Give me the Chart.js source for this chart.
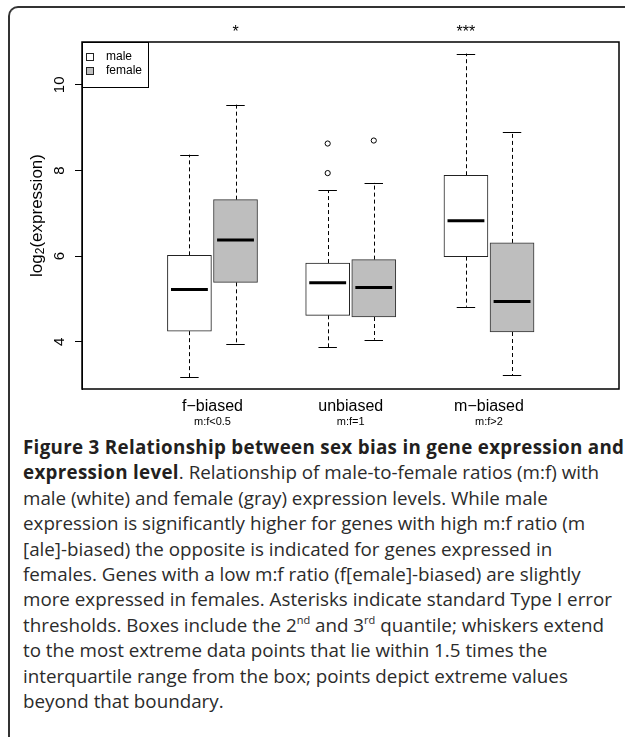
<!DOCTYPE html>
<html>
<head>
<meta charset="utf-8">
<script src="https://cdn.jsdelivr.net/npm/chart.js@4.4.1/dist/chart.umd.min.js"></script>
<style>
  html, body { margin: 0; padding: 0; background: #fff; }
  body { width: 625px; height: 737px; position: relative; overflow: hidden; }
  #frame {
    position: absolute; left: 8px; top: 6px; width: 640px; height: 740px;
    border-top: 2px solid #333; border-left: 2px solid #333;
    border-bottom: 2px solid #333;
    border-radius: 10px 0 0 10px;
    box-sizing: border-box;
  }
  #plot { position: absolute; left: 0; top: 0; width: 625px; height: 430px; }
  #caption {
    position: absolute; left: 23px; top: 435px;
    font-family: "Open Sans", sans-serif; font-size: 18.8px; line-height: 25.4px;
    color: #2b2b2b; white-space: nowrap;
  }
  #caption b { font-weight: 700; letter-spacing: 0.3px; color: #231f20; }
  #caption sup { font-size: 11px; line-height: 0; vertical-align: 8px; }
</style>
</head>
<body>
<div id="frame"></div>
<div id="plot"><canvas id="boxChart"></canvas></div>
<div id="caption">
<b>Figure 3 Relationship between sex bias in gene expression and</b><br>
<b>expression level</b>. Relationship of male-to-female ratios (m:f) with<br>
male (white) and female (gray) expression levels. While male<br>
expression is significantly higher for genes with high m:f ratio (m<br>
[ale]-biased) the opposite is indicated for genes expressed in<br>
females. Genes with a low m:f ratio (f[emale]-biased) are slightly<br>
more expressed in females. Asterisks indicate standard Type I error<br>
thresholds. Boxes include the 2<sup>nd</sup> and 3<sup>rd</sup> quantile; whiskers extend<br>
to the most extreme data points that lie within 1.5 times the<br>
interquartile range from the box; points depict extreme values<br>
beyond that boundary.
</div>
<script>
// Groups and labels
const categories = ['f\u2212biased', 'unbiased', 'm\u2212biased'];
const ratioLabels = ['m:f<0.5', 'm:f=1', 'm:f>2'];
const significance = ['*', '', '***'];
const yTicks = [4, 6, 8, 10];

// Male boxes (log2 expression)
const maleLow = [3.18, 3.87, 4.82];
const maleQ1 = [4.25, 4.62, 5.99];
const maleMedian = [5.22, 5.38, 6.83];
const maleQ3 = [6.02, 5.84, 7.89];
const maleHigh = [8.37, 7.54, 10.73];
const maleOutliers = [[], [7.94, 8.63], []];

// Female boxes
const femaleLow = [3.95, 4.05, 3.22];
const femaleQ1 = [5.39, 4.58, 4.23];
const femaleMedian = [6.38, 5.27, 4.94];
const femaleQ3 = [7.32, 5.92, 6.31];
const femaleHigh = [9.54, 7.72, 8.91];
const femaleOutliers = [[], [8.70], []];

const FONT = '"Liberation Sans", Arial, sans-serif';
const FEMALE_FILL = '#bebebe';

// box position on the x scale: male then female, one slot gap between groups
function slot(group, sex) {
    return group * 3 + 1 + sex;
}

const series = [
    { low: maleLow, q1: maleQ1, med: maleMedian, q3: maleQ3, high: maleHigh, out: maleOutliers },
    { low: femaleLow, q1: femaleQ1, med: femaleMedian, q3: femaleQ3, high: femaleHigh, out: femaleOutliers }
];

function boxData(sex) {
    const s = series[sex];
    return categories.map((c, i) => ({ x: slot(i, sex), y: [s.q1[i], s.q3[i]] }));
}

function outlierData() {
    const pts = [];
    series.forEach((s, sex) => {
        s.out.forEach((list, i) => list.forEach(v => pts.push({ x: slot(i, sex), y: v })));
    });
    return pts;
}

/**
 * Whiskers, medians, frame, rotated axis text, legend
 */
const boxExtras = {
    id: 'boxExtras',
    beforeDatasetsDraw(chart) {
        const { ctx, scales: { x, y } } = chart;
        ctx.save();
        ctx.strokeStyle = '#000';
        ctx.lineWidth = 1;
        series.forEach((s, sex) => {
            categories.forEach((c, i) => {
                const p = slot(i, sex);
                const cx = Math.round(x.getPixelForValue(p)) + 0.5;
                // dashed whiskers
                ctx.setLineDash([4, 3]);
                ctx.beginPath();
                ctx.moveTo(cx, y.getPixelForValue(s.q3[i]));
                ctx.lineTo(cx, y.getPixelForValue(s.high[i]));
                ctx.moveTo(cx, y.getPixelForValue(s.q1[i]));
                ctx.lineTo(cx, y.getPixelForValue(s.low[i]));
                ctx.stroke();
                // staples
                ctx.setLineDash([]);
                ctx.beginPath();
                [s.high[i], s.low[i]].forEach(v => {
                    const py = Math.round(y.getPixelForValue(v)) + 0.5;
                    ctx.moveTo(x.getPixelForValue(p - 0.2), py);
                    ctx.lineTo(x.getPixelForValue(p + 0.2), py);
                });
                ctx.stroke();
            });
        });
        ctx.restore();
    },
    afterDatasetsDraw(chart) {
        const { ctx, scales: { x, y } } = chart;
        ctx.save();
        ctx.strokeStyle = '#000';
        ctx.lineWidth = 3;
        series.forEach((s, sex) => {
            categories.forEach((c, i) => {
                const p = slot(i, sex);
                const py = y.getPixelForValue(s.med[i]);
                ctx.beginPath();
                ctx.moveTo(x.getPixelForValue(p - 0.4), py);
                ctx.lineTo(x.getPixelForValue(p + 0.4), py);
                ctx.stroke();
            });
        });
        ctx.restore();
    },
    afterDraw(chart) {
        const { ctx, chartArea: a, scales: { x, y } } = chart;
        ctx.save();

        // plot frame
        ctx.strokeStyle = '#000';
        ctx.lineWidth = 1.5;
        ctx.strokeRect(a.left, a.top, a.right - a.left, a.bottom - a.top);

        // y tick labels, rotated like R
        ctx.fillStyle = '#000';
        ctx.font = '15px ' + FONT;
        ctx.textAlign = 'center';
        ctx.textBaseline = 'middle';
        yTicks.forEach(v => {
            ctx.save();
            ctx.translate(a.left - 22, y.getPixelForValue(v));
            ctx.rotate(-Math.PI / 2);
            ctx.fillText(String(v), 0, 0);
            ctx.restore();
        });

        // y title: log2(expression)
        ctx.save();
        ctx.translate(37, (a.top + a.bottom) / 2);
        ctx.rotate(-Math.PI / 2);
        ctx.textAlign = 'left';
        ctx.textBaseline = 'middle';
        ctx.font = '17px ' + FONT;
        const w1 = ctx.measureText('log').width;
        const w3 = ctx.measureText('(expression)').width;
        ctx.font = '12px ' + FONT;
        const w2 = ctx.measureText('2').width;
        let sx = -(w1 + w2 + w3) / 2;
        ctx.font = '17px ' + FONT;
        ctx.fillText('log', sx, 0);
        ctx.font = '12px ' + FONT;
        ctx.fillText('2', sx + w1, 4);
        ctx.font = '17px ' + FONT;
        ctx.fillText('(expression)', sx + w1 + w2, 0);
        ctx.restore();

        // group labels under the axis
        ctx.textAlign = 'center';
        ctx.textBaseline = 'middle';
        categories.forEach((c, i) => {
            const px = x.getPixelForValue(slot(i, 0) + 0.5);
            ctx.font = '16px ' + FONT;
            ctx.fillText(c, px, a.bottom + 18);
            ctx.font = '11px ' + FONT;
            ctx.fillText(ratioLabels[i], px, a.bottom + 33);
        });

        // significance stars above the higher box
        ctx.font = '16px ' + FONT;
        ctx.textBaseline = 'alphabetic';
        significance.forEach((mark, i) => {
            if (!mark) return;
            const sex = maleMedian[i] >= femaleMedian[i] ? 0 : 1;
            ctx.fillText(mark, x.getPixelForValue(slot(i, sex)), a.top - 5);
        });

        // legend
        ctx.lineWidth = 1;
        ctx.strokeStyle = '#000';
        ctx.strokeRect(a.left + 0.5, a.top + 0.5, 66, 45);
        ctx.font = '12px ' + FONT;
        ctx.textAlign = 'left';
        ctx.textBaseline = 'middle';
        [['male', '#fff'], ['female', FEMALE_FILL]].forEach(([name, fill], k) => {
            const cy = a.top + 15 + k * 14;
            ctx.fillStyle = fill;
            ctx.fillRect(a.left + 4.5, cy - 3.5, 7, 7);
            ctx.strokeStyle = '#222';
            ctx.strokeRect(a.left + 4.5, cy - 3.5, 7, 7);
            ctx.fillStyle = '#000';
            ctx.fillText(name, a.left + 24, cy);
        });

        ctx.restore();
    }
};

document.addEventListener('DOMContentLoaded', function () {
    const ctx = document.getElementById('boxChart').getContext('2d');
    new Chart(ctx, {
        type: 'bar',
        data: {
            datasets: [
                {
                    label: 'male',
                    data: boxData(0),
                    backgroundColor: '#ffffff',
                    borderColor: '#222',
                    borderWidth: 1,
                    borderSkipped: false,
                    barThickness: 44,
                    grouped: false
                },
                {
                    label: 'female',
                    data: boxData(1),
                    backgroundColor: FEMALE_FILL,
                    borderColor: '#333',
                    borderWidth: 1,
                    borderSkipped: false,
                    barThickness: 44,
                    grouped: false
                },
                {
                    type: 'scatter',
                    label: 'outliers',
                    data: outlierData(),
                    pointStyle: 'circle',
                    pointRadius: 2.6,
                    borderColor: '#000',
                    borderWidth: 1,
                    backgroundColor: 'rgba(0,0,0,0)'
                }
            ]
        },
        options: {
            responsive: true,
            maintainAspectRatio: false,
            animation: false,
            layout: { padding: { top: 42, right: 6, left: 0, bottom: 0 } },
            plugins: {
                legend: { display: false },
                tooltip: { enabled: false }
            },
            scales: {
                x: {
                    type: 'linear',
                    min: -0.36,
                    max: 9.35,
                    ticks: { display: false },
                    grid: { display: false },
                    border: { display: false },
                    afterFit: s => { s.height = 41; }
                },
                y: {
                    type: 'linear',
                    min: 2.9,
                    max: 11.0,
                    afterBuildTicks: s => { s.ticks = yTicks.map(v => ({ value: v })); },
                    ticks: { display: false },
                    grid: { drawOnChartArea: false, drawTicks: true, tickLength: 7, color: '#000' },
                    border: { display: true, color: '#000' },
                    afterFit: s => { s.width = 82; }
                }
            }
        },
        plugins: [boxExtras]
    });
});
</script>
</body>
</html>
